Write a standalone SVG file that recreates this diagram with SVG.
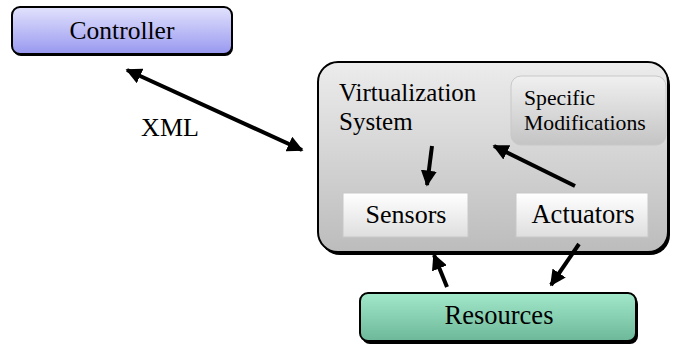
<svg xmlns="http://www.w3.org/2000/svg" width="673" height="354" viewBox="0 0 673 354">
  <defs>
    <linearGradient id="gBlue" x1="0" y1="0" x2="0" y2="1">
      <stop offset="0" stop-color="#e2e2fd"/>
      <stop offset="1" stop-color="#9898f0"/>
    </linearGradient>
    <linearGradient id="gGray" x1="0" y1="0" x2="0" y2="1">
      <stop offset="0" stop-color="#ececec"/>
      <stop offset="1" stop-color="#bcbcbc"/>
    </linearGradient>
    <linearGradient id="gMod" x1="0" y1="0" x2="0" y2="1">
      <stop offset="0" stop-color="#f0f0f0"/>
      <stop offset="1" stop-color="#c4c4c4"/>
    </linearGradient>
    <linearGradient id="gWhite" x1="0" y1="0" x2="0" y2="1">
      <stop offset="0" stop-color="#ffffff"/>
      <stop offset="1" stop-color="#dedede"/>
    </linearGradient>
    <linearGradient id="gGreen" x1="0" y1="0" x2="0" y2="1">
      <stop offset="0" stop-color="#a2e8ca"/>
      <stop offset="1" stop-color="#6cb898"/>
    </linearGradient>
    <marker id="ah" viewBox="0 0 10 10" refX="9" refY="5" markerWidth="4" markerHeight="4" orient="auto-start-reverse" markerUnits="strokeWidth">
      <path d="M0,0 L10,5 L0,10 z" fill="#000"/>
    </marker>
  </defs>
  <style>
    .lbl { font-family: "Liberation Serif", "Times New Roman", serif; fill: #000; }
    .main { stroke: #000; stroke-width: 2; }
    .soft { stroke: #c8c8c8; stroke-width: 1; }
    .conn { stroke: #000; stroke-width: 4; fill: none; marker-end: url(#ah); }
    .shadow { fill: #000; }
  </style>

  <g id="controller">
    <rect x="13" y="9" width="220" height="47" rx="8" class="shadow"/>
    <rect x="12" y="7" width="220" height="47" rx="8" fill="url(#gBlue)" class="main"/>
    <text x="122" y="39" text-anchor="middle" font-size="25.5" class="lbl">Controller</text>
  </g>

  <g id="virtualization-system">
    <rect x="320" y="65" width="350" height="190" rx="20" class="shadow"/>
    <rect x="318" y="62" width="350" height="190" rx="20" fill="url(#gGray)" class="main"/>
    <text x="339" y="101" font-size="25" class="lbl">Virtualization</text>
    <text x="339" y="130" font-size="25" class="lbl">System</text>
  </g>

  <g id="specific-modifications">
    <rect x="511" y="76" width="155" height="69" rx="10" fill="url(#gMod)" class="soft"/>
    <text x="524" y="105" font-size="21.7" class="lbl">Specific</text>
    <text x="524" y="130" font-size="21.7" class="lbl">Modifications</text>
  </g>

  <g id="sensors">
    <rect x="343" y="193" width="125" height="44" fill="url(#gWhite)" class="soft"/>
    <text x="406" y="223" text-anchor="middle" font-size="26" class="lbl">Sensors</text>
  </g>

  <g id="actuators">
    <rect x="516" y="193" width="132" height="44" fill="url(#gWhite)" class="soft"/>
    <text x="583" y="223" text-anchor="middle" font-size="26.5" class="lbl">Actuators</text>
  </g>

  <g id="resources">
    <rect x="362" y="296" width="276" height="48" rx="8" class="shadow"/>
    <rect x="360" y="293" width="276" height="48" rx="8" fill="url(#gGreen)" class="main"/>
    <text x="499" y="324" text-anchor="middle" font-size="26.5" class="lbl">Resources</text>
  </g>

  <g id="connectors">
    <line x1="127" y1="70" x2="302" y2="150" class="conn" style="marker-start:url(#ah)"/>
    <line x1="432" y1="146" x2="427" y2="185" class="conn"/>
    <line x1="575" y1="186" x2="494" y2="146" class="conn"/>
    <line x1="447" y1="287" x2="434" y2="255" class="conn"/>
    <line x1="579" y1="244" x2="551" y2="285" class="conn"/>
    <text x="170" y="136" text-anchor="middle" font-size="26" class="lbl">XML</text>
  </g>
</svg>
